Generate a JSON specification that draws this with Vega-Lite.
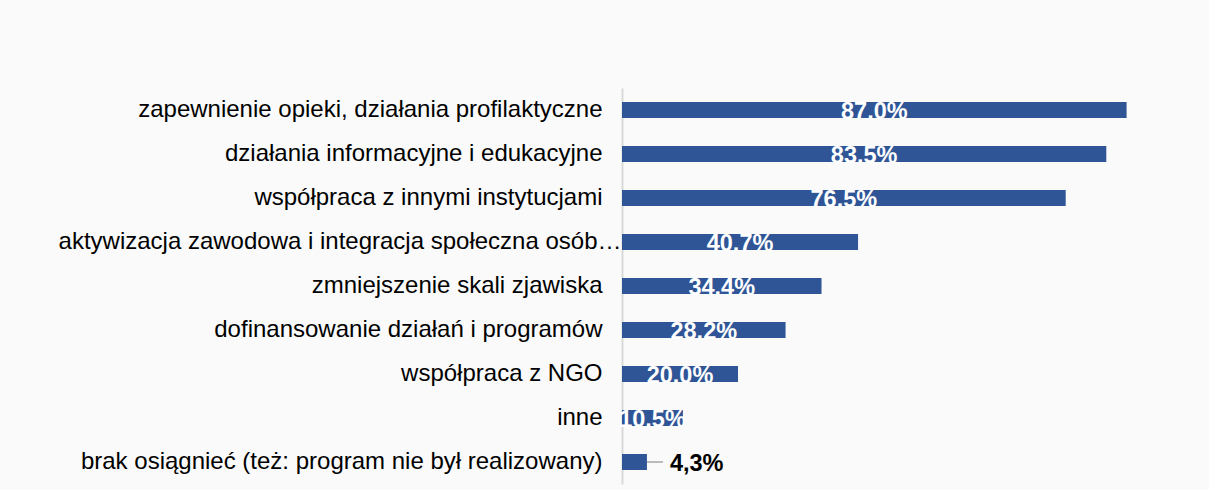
{
  "$schema": "https://vega.github.io/schema/vega-lite/v6.json",
  "autosize": "none",
  "width": 580,
  "height": 396,
  "padding": {"left": 622, "top": 88, "right": 7, "bottom": 6},
  "background": "#fafafa",
  "config": {"view": {"stroke": null}, "font": "Liberation Sans"},
  "data": {"values": [
    {"cat": "zapewnienie opieki, działania profilaktyczne", "value": 87.0, "label": "87.0%", "inside": true},
    {"cat": "działania informacyjne i edukacyjne", "value": 83.5, "label": "83.5%", "inside": true},
    {"cat": "współpraca z innymi instytucjami", "value": 76.5, "label": "76.5%", "inside": true},
    {"cat": "aktywizacja zawodowa i integracja społeczna osób…", "value": 40.7, "label": "40.7%", "inside": true},
    {"cat": "zmniejszenie skali zjawiska", "value": 34.4, "label": "34.4%", "inside": true},
    {"cat": "dofinansowanie działań i programów", "value": 28.2, "label": "28.2%", "inside": true},
    {"cat": "współpraca z NGO", "value": 20.0, "label": "20.0%", "inside": true},
    {"cat": "inne", "value": 10.5, "label": "10.5%", "inside": true},
    {"cat": "brak osiągnieć (też: program nie był realizowany)", "value": 4.3, "label": "4,3%", "inside": false}
  ]},
  "encoding": {
    "y": {"field": "cat", "type": "nominal", "sort": null,
      "scale": {"paddingInner": 0, "paddingOuter": 0},
      "axis": {"title": null, "ticks": false, "grid": false, "domainColor": "#d9d9d9", "domainWidth": 2,
        "labelFontSize": 24, "labelColor": "#000000", "labelLimit": 700,
        "labelPadding": {"condition": {"test": "indexof(datum.label, 'osób') >= 0", "value": 1}, "value": 20}}}
  },
  "layer": [
    {"mark": {"type": "bar", "size": 16, "color": "#2f5597"},
     "encoding": {"x": {"field": "value", "type": "quantitative", "scale": {"domain": [0, 100]}, "axis": null}}},
    {"transform": [{"filter": "datum.inside"}],
     "mark": {"type": "text", "align": "center", "baseline": "alphabetic", "dy": 9, "fontSize": 23.5, "fontWeight": "bold", "color": "#ffffff"},
     "encoding": {"x": {"field": "value", "type": "quantitative", "scale": {"domain": [0, 200]}, "axis": null},
       "text": {"field": "label"}}},
    {"transform": [{"filter": "!datum.inside"}],
     "mark": {"type": "rule", "color": "#a6a6a6", "strokeWidth": 1.5, "x2Offset": 16},
     "encoding": {"x": {"field": "value", "type": "quantitative", "scale": {"domain": [0, 100]}, "axis": null}, "x2": {"field": "value"}}},
    {"transform": [{"filter": "!datum.inside"}],
     "mark": {"type": "text", "align": "left", "baseline": "alphabetic", "dx": 23, "dy": 9, "fontSize": 23.5, "fontWeight": "bold", "color": "#000000"},
     "encoding": {"x": {"field": "value", "type": "quantitative", "scale": {"domain": [0, 100]}, "axis": null}, "text": {"field": "label"}}}
  ],
  "resolve": {"scale": {"x": "independent"}}
}
